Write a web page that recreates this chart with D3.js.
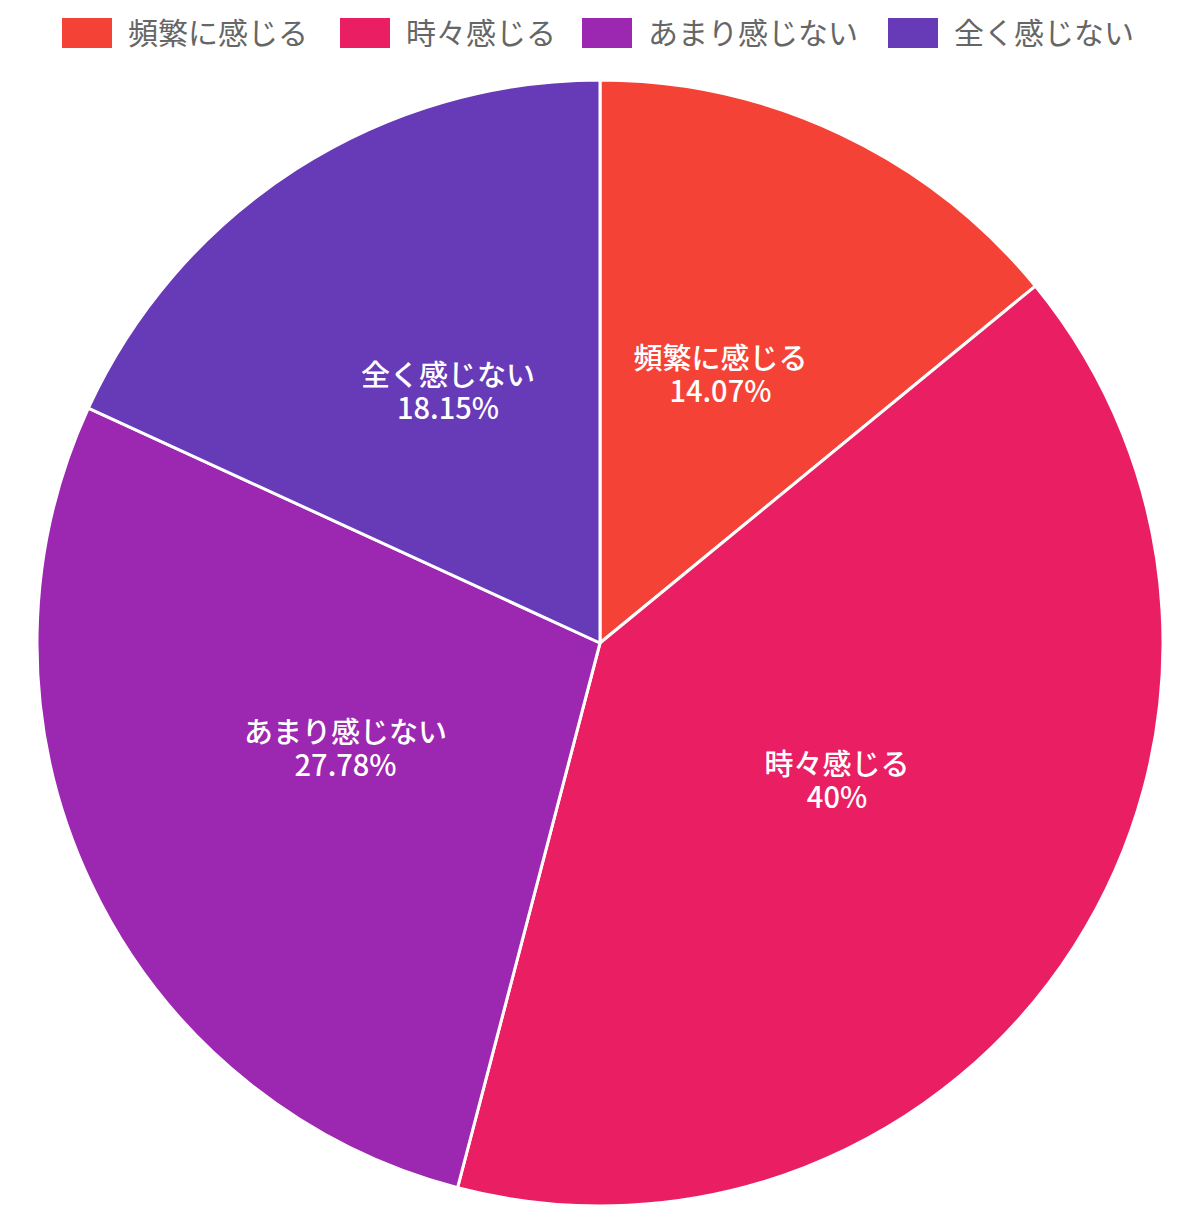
<!DOCTYPE html>
<html>
<head>
<meta charset="utf-8">
<script src="https://cdn.jsdelivr.net/npm/d3@7"></script>
<style>
  body { margin: 0; background: #fff; }
  svg { display: block; font-family: "Noto Sans CJK JP", "Noto Sans", sans-serif; }
</style>
</head>
<body>
<svg id="chart" width="1200" height="1214"></svg>
<script>
const categories = ['頻繁に感じる', '時々感じる', 'あまり感じない', '全く感じない'];
const values = [14.07, 40, 27.78, 18.15];
const valueLabels = ['14.07%', '40%', '27.78%', '18.15%'];
const colors = ['#F44336', '#E91E63', '#9C27B0', '#673AB7'];

const svg = d3.select('#chart');
const width = 1200, height = 1214;
const cx = 600, cy = 643, radius = 563;

const color = d3.scaleOrdinal().domain(categories).range(colors);

const pie = d3.pie().sort(null).value(d => d.value);
const data = categories.map((c, i) => ({name: c, value: values[i], label: valueLabels[i]}));
const arcs = pie(data);

const arc = d3.arc().innerRadius(0).outerRadius(radius);
const labelArc = d3.arc().innerRadius(radius * 0.5).outerRadius(radius * 0.5);

const g = svg.append('g').attr('transform', `translate(${cx},${cy})`);

// Slices
g.selectAll('path')
  .data(arcs)
  .enter()
  .append('path')
  .attr('d', arc)
  .attr('fill', d => color(d.data.name))
  .attr('stroke', '#fff')
  .attr('stroke-width', 3)
  .attr('stroke-linejoin', 'round');

// Slice labels
const labels = g.selectAll('text.slice')
  .data(arcs)
  .enter()
  .append('text')
  .attr('class', 'slice')
  .attr('transform', d => `translate(${labelArc.centroid(d)})`)
  .attr('text-anchor', 'middle')
  .attr('fill', '#fff')
  .attr('font-weight', 500)
  .attr('font-size', '29px');
labels.append('tspan').attr('x', 0).attr('y', -20).text(d => d.data.name);
labels.append('tspan').attr('x', 0).attr('y', 13).text(d => d.data.label);

// Legend
const legendX = [62, 340, 582, 888];
const legend = svg.append('g');
categories.forEach((c, i) => {
  legend.append('rect')
    .attr('x', legendX[i])
    .attr('y', 18)
    .attr('width', 50)
    .attr('height', 30)
    .attr('fill', color(c));
  legend.append('text')
    .attr('x', legendX[i] + 66)
    .attr('y', 44)
    .attr('font-size', '30px')
    .attr('fill', '#666')
    .text(c);
});
</script>
</body>
</html>
